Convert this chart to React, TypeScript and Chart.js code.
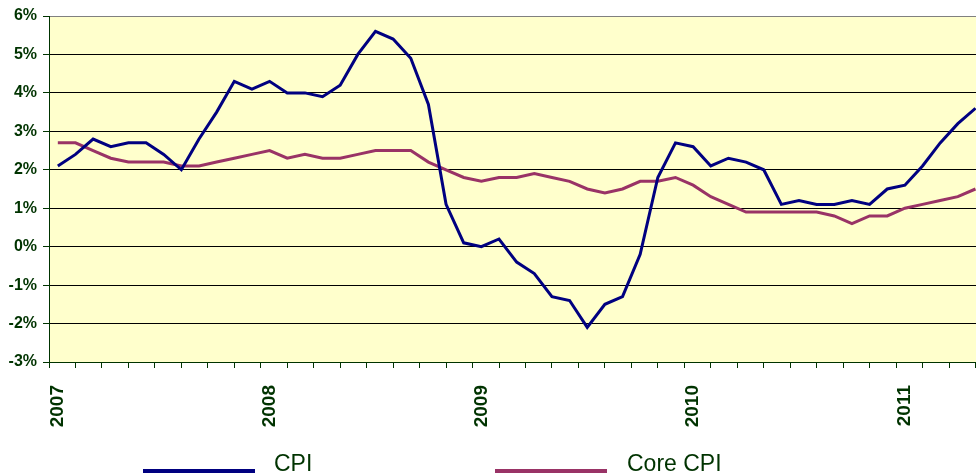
import React, { useEffect, useRef } from 'react';
import { Chart, registerables } from 'chart.js';

Chart.register(...registerables);

const yearLabels = ['2007', '2008', '2009', '2010', '2011'];
const monthsPerYear = 12;

// Monthly year-over-year change, Jan 2007 .. May 2011 (%)
const cpi = [
  2.1, 2.4, 2.8, 2.6, 2.7, 2.7, 2.4, 2.0, 2.8, 3.5, 4.3, 4.1,
  4.3, 4.0, 4.0, 3.9, 4.2, 5.0, 5.6, 5.4, 4.9, 3.7, 1.1, 0.1,
  0.0, 0.2, -0.4, -0.7, -1.3, -1.4, -2.1, -1.5, -1.3, -0.2, 1.8, 2.7,
  2.6, 2.1, 2.3, 2.2, 2.0, 1.1, 1.2, 1.1, 1.1, 1.2, 1.1, 1.5,
  1.6, 2.1, 2.7, 3.2, 3.6,
];
const coreCpi = [
  2.7, 2.7, 2.5, 2.3, 2.2, 2.2, 2.2, 2.1, 2.1, 2.2, 2.3, 2.4,
  2.5, 2.3, 2.4, 2.3, 2.3, 2.4, 2.5, 2.5, 2.5, 2.2, 2.0, 1.8,
  1.7, 1.8, 1.8, 1.9, 1.8, 1.7, 1.5, 1.4, 1.5, 1.7, 1.7, 1.8,
  1.6, 1.3, 1.1, 0.9, 0.9, 0.9, 0.9, 0.9, 0.8, 0.6, 0.8, 0.8,
  1.0, 1.1, 1.2, 1.3, 1.5,
];
const yMin = -3;
const yMax = 6;
const seriesNames = ['CPI', 'Core CPI'];
const seriesColors = ['#000080', '#993366'];

const textColor = '#003300';

const bgPlugin = {
  id: 'plotBg',
  beforeDraw(chart: any) {
    const { ctx, chartArea } = chart;
    ctx.save();
    ctx.fillStyle = '#FFFFCC';
    ctx.fillRect(chartArea.left, chartArea.top, chartArea.right - chartArea.left, chartArea.bottom - chartArea.top);
    ctx.restore();
  },
};

export default function App() {
  const ref = useRef<HTMLCanvasElement>(null);

  useEffect(() => {
    Chart.defaults.font.family = "'Liberation Sans', Arial, sans-serif";
    const yearIdx = yearLabels.map((_, i) => i * monthsPerYear);
    const xMax = 52.03;
    const chart = new Chart(ref.current as HTMLCanvasElement, {
      type: 'line',
      data: {
        datasets: [
          {
            label: seriesNames[0],
            data: cpi.map((v, i) => ({ x: i, y: v })),
            borderColor: seriesColors[0],
            borderWidth: 3,
            pointRadius: 0,
            tension: 0,
          },
          {
            label: seriesNames[1],
            data: coreCpi.map((v, i) => ({ x: i, y: v })),
            borderColor: seriesColors[1],
            borderWidth: 3,
            pointRadius: 0,
            tension: 0,
          },
        ],
      },
      options: {
        animation: false,
        responsive: true,
        maintainAspectRatio: false,
        layout: { padding: { top: 16, left: 0, right: 0, bottom: 0 } },
        plugins: { legend: { display: false }, tooltip: { enabled: false } },
        scales: {
          x: {
            type: 'linear',
            min: -0.5,
            max: xMax,
            afterBuildTicks: (s: any) => {
              const t: any[] = [];
              for (let v = -0.5; v <= xMax + 1e-6; v += 1.5) t.push({ value: v });
              yearIdx.forEach((v) => t.push({ value: v }));
              t.sort((a, b) => a.value - b.value);
              s.ticks = t;
            },
            afterFit: (s: any) => {
              s.height = 113;
              s.paddingLeft = 0;
              s.paddingRight = 0;
            },
            ticks: {
              autoSkip: false,
              minRotation: 90,
              maxRotation: 90,
              padding: 17,
              color: textColor,
              font: { size: 19, weight: 'bold' },
              callback: (v: any) => {
                const k = yearIdx.indexOf(v);
                return k >= 0 ? yearLabels[k] : '';
              },
            },
            grid: {
              drawOnChartArea: false,
              tickLength: 6,
              tickColor: (c: any) => (c.tick && yearIdx.includes(c.tick.value) ? 'rgba(0,0,0,0)' : textColor),
            },
            border: { color: textColor, width: 1 },
          },
          y: {
            min: yMin,
            max: yMax,
            afterFit: (s: any) => {
              s.width = 49;
            },
            ticks: {
              stepSize: 1,
              padding: 6,
              color: textColor,
              font: { size: 16, weight: 'bold' },
              callback: (v: any) => v + '%',
            },
            grid: {
              color: (c: any) =>
                c.tick && c.tick.value === yMax ? '#808080' : c.tick && c.tick.value === yMin ? textColor : '#000000',
              tickLength: 6,
              tickColor: textColor,
            },
            border: { color: textColor, width: 1 },
          },
        },
      } as any,
      plugins: [bgPlugin],
    });
    return () => chart.destroy();
  }, []);

  const legendText: React.CSSProperties = {
    position: 'absolute',
    top: 450,
    fontFamily: "'Liberation Sans', Arial, sans-serif",
    fontSize: 23,
    color: textColor,
    whiteSpace: 'nowrap',
  };
  const bar: React.CSSProperties = { position: 'absolute', top: 469, width: 112, height: 4 };

  return (
    <div style={{ position: 'fixed', left: 0, top: 0, width: 976, height: 475, overflow: 'hidden', background: '#fff' }}>
      <canvas ref={ref} />
      <div style={{ ...bar, left: 143, background: seriesColors[0] }} />
      <div style={{ ...legendText, left: 274 }}>{seriesNames[0]}</div>
      <div style={{ ...bar, left: 495, background: seriesColors[1] }} />
      <div style={{ ...legendText, left: 627 }}>{seriesNames[1]}</div>
    </div>
  );
}
